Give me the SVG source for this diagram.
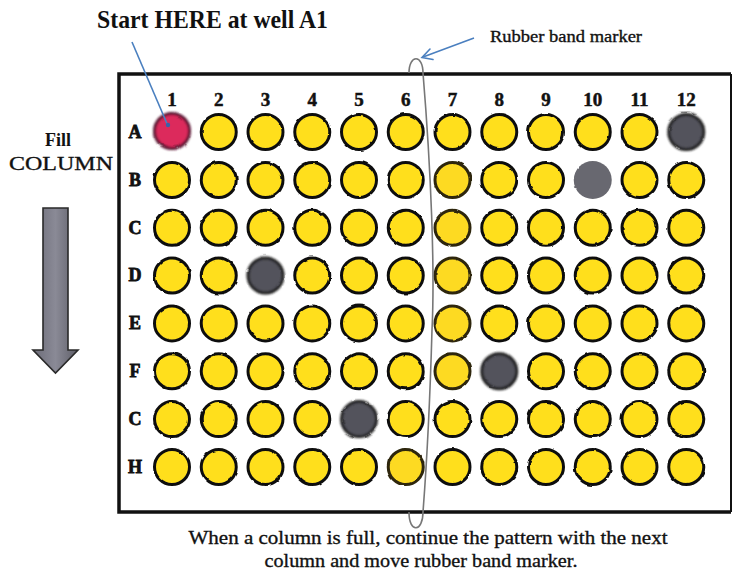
<svg xmlns="http://www.w3.org/2000/svg" width="732" height="579" viewBox="0 0 732 579">
<style>
text{font-family:"Liberation Serif","Times New Roman",serif;fill:#111}
.b{font-weight:bold}
.w{fill:#ffdf1f;stroke:#111;stroke-width:3}
.fw{fill:#fdda22;stroke:#2e2810;stroke-width:3}
.d{fill:#52525c;stroke:#1c1c1c;stroke-width:3}
.g{fill:#68686f;stroke:none}
.r{fill:#dc2a5c;stroke:#5a1430;stroke-width:3}
.num{font-size:19px;font-weight:bold;text-anchor:middle;stroke:#111;stroke-width:0.5}
.row{font-size:18px;font-weight:bold;text-anchor:middle;stroke:#111;stroke-width:0.8}
.band{fill:none;stroke:#777;stroke-width:1.6}
.blue{stroke:#4a7fbf;stroke-width:1.6;fill:none}
</style>
<defs>
<filter id="wob" x="-10%" y="-10%" width="120%" height="120%">
<feTurbulence type="fractalNoise" baseFrequency="0.12" numOctaves="1" seed="3"/>
<feDisplacementMap in="SourceGraphic" scale="2.5" xChannelSelector="R" yChannelSelector="G"/>
</filter>
<filter id="soft"><feGaussianBlur stdDeviation="0.9"/></filter>
<linearGradient id="ag" x1="0" y1="0" x2="1" y2="0">
<stop offset="0" stop-color="#6c6c78"/><stop offset="0.5" stop-color="#8a8a96"/><stop offset="1" stop-color="#5e5e68"/>
</linearGradient>
</defs>
<rect width="732" height="579" fill="#fff"/>
<!-- plate -->
<g id="plate">
<path d="M731 74 H119 V512 H731" fill="#fff" stroke="#111" stroke-width="3.5"/>
<line x1="731" y1="74" x2="731" y2="512" stroke="#111" stroke-width="2"/>
</g>
<!-- headings -->
<g id="title"><text x="97" y="28" font-size="25" class="b" textLength="231" lengthAdjust="spacingAndGlyphs">Start HERE at well A1</text></g>
<g id="band-label"><text x="490" y="42" font-size="17" textLength="152" lengthAdjust="spacingAndGlyphs" stroke="#111" stroke-width="0.35">Rubber band marker</text></g>
<g id="fill-label">
<text x="58" y="146" font-size="18" class="b" text-anchor="middle">Fill</text>
<text x="61" y="170" font-size="18" text-anchor="middle" textLength="104" lengthAdjust="spacingAndGlyphs" stroke="#111" stroke-width="0.3">COLUMN</text>
</g>
<g id="fill-arrow">
<path d="M43 208 H68 V350 H78 L55.5 373 L33 350 H43 Z" fill="url(#ag)" stroke="#2a2a2a" stroke-width="1.6" stroke-linejoin="miter"/>
</g>
<g id="caption">
<text x="428" y="544" font-size="19.5" text-anchor="middle" textLength="479" lengthAdjust="spacingAndGlyphs" stroke="#111" stroke-width="0.35">When a column is full, continue the pattern with the next</text>
<text x="421" y="567" font-size="19.5" text-anchor="middle" textLength="313" lengthAdjust="spacingAndGlyphs" stroke="#111" stroke-width="0.35">column and move rubber band marker.</text>
</g>
<!-- column numbers -->
<g id="cols">
<text class="num" x="172" y="106">1</text>
<text class="num" x="218.75" y="106">2</text>
<text class="num" x="265.5" y="106">3</text>
<text class="num" x="312.25" y="106">4</text>
<text class="num" x="359" y="106">5</text>
<text class="num" x="405.75" y="106">6</text>
<text class="num" x="452.5" y="106">7</text>
<text class="num" x="499.25" y="106">8</text>
<text class="num" x="546" y="106">9</text>
<text class="num" x="592.75" y="106">10</text>
<text class="num" x="639.5" y="106">11</text>
<text class="num" x="686.25" y="106">12</text>
</g>
<g id="rows">
<text class="row" x="135" y="138">A</text>
<text class="row" x="135" y="186">B</text>
<text class="row" x="135" y="234">C</text>
<text class="row" x="135" y="281">D</text>
<text class="row" x="135" y="329">E</text>
<text class="row" x="135" y="377">F</text>
<text class="row" x="135" y="425">C</text>
<text class="row" x="135" y="473">H</text>
</g>
<!-- wells -->
<g id="wells" filter="url(#wob)">
<g id="A1"><circle class="r" cx="172" cy="131" r="17.5" filter="url(#soft)"/></g>
<g id="A2"><circle class="w" cx="218.75" cy="132" r="17.5"/></g>
<g id="A3"><circle class="w" cx="265.5" cy="132" r="17.5"/></g>
<g id="A4"><circle class="w" cx="312.25" cy="132" r="17.5"/></g>
<g id="A5"><circle class="w" cx="359" cy="132" r="17.5"/></g>
<g id="A6"><circle class="w" cx="405.75" cy="132" r="17.5"/></g>
<g id="A7"><circle class="w" cx="452.5" cy="132" r="17.5"/></g>
<g id="A8"><circle class="w" cx="499.25" cy="132" r="17.5"/></g>
<g id="A9"><circle class="w" cx="546" cy="132" r="17.5"/></g>
<g id="A10"><circle class="w" cx="592.75" cy="132" r="17.5"/></g>
<g id="A11"><circle class="w" cx="639.5" cy="132" r="17.5"/></g>
<g id="A12"><circle class="d" cx="686.25" cy="132" r="17.5" filter="url(#soft)"/></g>

<g id="B1"><circle class="w" cx="172" cy="180" r="17.5"/></g>
<g id="B2"><circle class="w" cx="218.75" cy="180" r="17.5"/></g>
<g id="B3"><circle class="w" cx="265.5" cy="180" r="17.5"/></g>
<g id="B4"><circle class="w" cx="312.25" cy="180" r="17.5"/></g>
<g id="B5"><circle class="w" cx="359" cy="180" r="17.5"/></g>
<g id="B6"><circle class="w" cx="405.75" cy="180" r="17.5"/></g>
<g id="B7"><circle class="fw" cx="452.5" cy="180" r="17.5"/></g>
<g id="B8"><circle class="w" cx="499.25" cy="180" r="17.5"/></g>
<g id="B9"><circle class="w" cx="546" cy="180" r="17.5"/></g>
<g id="B10"><circle class="g" cx="592.75" cy="180" r="19"/></g>
<g id="B11"><circle class="w" cx="639.5" cy="180" r="17.5"/></g>
<g id="B12"><circle class="w" cx="686.25" cy="180" r="17.5"/></g>

<g id="C1"><circle class="w" cx="172" cy="227.7" r="17.5"/></g>
<g id="C2"><circle class="w" cx="218.75" cy="227.7" r="17.5"/></g>
<g id="C3"><circle class="w" cx="265.5" cy="227.7" r="17.5"/></g>
<g id="C4"><circle class="w" cx="312.25" cy="227.7" r="17.5"/></g>
<g id="C5"><circle class="w" cx="359" cy="227.7" r="17.5"/></g>
<g id="C6"><circle class="w" cx="405.75" cy="227.7" r="17.5"/></g>
<g id="C7"><circle class="fw" cx="452.5" cy="227.7" r="17.5"/></g>
<g id="C8"><circle class="w" cx="499.25" cy="227.7" r="17.5"/></g>
<g id="C9"><circle class="w" cx="546" cy="227.7" r="17.5"/></g>
<g id="C10"><circle class="w" cx="592.75" cy="227.7" r="17.5"/></g>
<g id="C11"><circle class="w" cx="639.5" cy="227.7" r="17.5"/></g>
<g id="C12"><circle class="w" cx="686.25" cy="227.7" r="17.5"/></g>

<g id="D1"><circle class="w" cx="172" cy="275.5" r="17.5"/></g>
<g id="D2"><circle class="w" cx="218.75" cy="275.5" r="17.5"/></g>
<g id="D3"><circle class="d" cx="265.5" cy="275.5" r="17.5" filter="url(#soft)"/></g>
<g id="D4"><circle class="w" cx="312.25" cy="275.5" r="17.5"/></g>
<g id="D5"><circle class="w" cx="359" cy="275.5" r="17.5"/></g>
<g id="D6"><circle class="w" cx="405.75" cy="275.5" r="17.5"/></g>
<g id="D7"><circle class="fw" cx="452.5" cy="275.5" r="17.5"/></g>
<g id="D8"><circle class="w" cx="499.25" cy="275.5" r="17.5"/></g>
<g id="D9"><circle class="w" cx="546" cy="275.5" r="17.5"/></g>
<g id="D10"><circle class="w" cx="592.75" cy="275.5" r="17.5"/></g>
<g id="D11"><circle class="w" cx="639.5" cy="275.5" r="17.5"/></g>
<g id="D12"><circle class="w" cx="686.25" cy="275.5" r="17.5"/></g>

<g id="E1"><circle class="w" cx="172" cy="323.4" r="17.5"/></g>
<g id="E2"><circle class="w" cx="218.75" cy="323.4" r="17.5"/></g>
<g id="E3"><circle class="w" cx="265.5" cy="323.4" r="17.5"/></g>
<g id="E4"><circle class="w" cx="312.25" cy="323.4" r="17.5"/></g>
<g id="E5"><circle class="w" cx="359" cy="323.4" r="17.5"/></g>
<g id="E6"><circle class="w" cx="405.75" cy="323.4" r="17.5"/></g>
<g id="E7"><circle class="fw" cx="452.5" cy="323.4" r="17.5"/></g>
<g id="E8"><circle class="w" cx="499.25" cy="323.4" r="17.5"/></g>
<g id="E9"><circle class="w" cx="546" cy="323.4" r="17.5"/></g>
<g id="E10"><circle class="w" cx="592.75" cy="323.4" r="17.5"/></g>
<g id="E11"><circle class="w" cx="639.5" cy="323.4" r="17.5"/></g>
<g id="E12"><circle class="w" cx="686.25" cy="323.4" r="17.5"/></g>

<g id="F1"><circle class="w" cx="172" cy="371.2" r="17.5"/></g>
<g id="F2"><circle class="w" cx="218.75" cy="371.2" r="17.5"/></g>
<g id="F3"><circle class="w" cx="265.5" cy="371.2" r="17.5"/></g>
<g id="F4"><circle class="w" cx="312.25" cy="371.2" r="17.5"/></g>
<g id="F5"><circle class="w" cx="359" cy="371.2" r="17.5"/></g>
<g id="F6"><circle class="w" cx="405.75" cy="371.2" r="17.5"/></g>
<g id="F7"><circle class="fw" cx="452.5" cy="371.2" r="17.5"/></g>
<g id="F8"><circle class="d" cx="499.25" cy="371.2" r="17.5" filter="url(#soft)"/></g>
<g id="F9"><circle class="w" cx="546" cy="371.2" r="17.5"/></g>
<g id="F10"><circle class="w" cx="592.75" cy="371.2" r="17.5"/></g>
<g id="F11"><circle class="w" cx="639.5" cy="371.2" r="17.5"/></g>
<g id="F12"><circle class="w" cx="686.25" cy="371.2" r="17.5"/></g>

<g id="G1"><circle class="w" cx="172" cy="419.1" r="17.5"/></g>
<g id="G2"><circle class="w" cx="218.75" cy="419.1" r="17.5"/></g>
<g id="G3"><circle class="w" cx="265.5" cy="419.1" r="17.5"/></g>
<g id="G4"><circle class="w" cx="312.25" cy="419.1" r="17.5"/></g>
<g id="G5"><circle class="d" cx="359" cy="419.1" r="17.5" filter="url(#soft)"/></g>
<g id="G6"><circle class="w" cx="405.75" cy="419.1" r="17.5"/></g>
<g id="G7"><circle class="w" cx="452.5" cy="419.1" r="17.5"/></g>
<g id="G8"><circle class="w" cx="499.25" cy="419.1" r="17.5"/></g>
<g id="G9"><circle class="w" cx="546" cy="419.1" r="17.5"/></g>
<g id="G10"><circle class="w" cx="592.75" cy="419.1" r="17.5"/></g>
<g id="G11"><circle class="w" cx="639.5" cy="419.1" r="17.5"/></g>
<g id="G12"><circle class="w" cx="686.25" cy="419.1" r="17.5"/></g>

<g id="H1"><circle class="w" cx="172" cy="467" r="17.5"/></g>
<g id="H2"><circle class="w" cx="218.75" cy="467" r="17.5"/></g>
<g id="H3"><circle class="w" cx="265.5" cy="467" r="17.5"/></g>
<g id="H4"><circle class="w" cx="312.25" cy="467" r="17.5"/></g>
<g id="H5"><circle class="w" cx="359" cy="467" r="17.5"/></g>
<g id="H6"><circle class="fw" cx="405.75" cy="467" r="17.5"/></g>
<g id="H7"><circle class="w" cx="452.5" cy="467" r="17.5"/></g>
<g id="H8"><circle class="w" cx="499.25" cy="467" r="17.5"/></g>
<g id="H9"><circle class="w" cx="546" cy="467" r="17.5"/></g>
<g id="H10"><circle class="w" cx="592.75" cy="467" r="17.5"/></g>
<g id="H11"><circle class="w" cx="639.5" cy="467" r="17.5"/></g>
<g id="H12"><circle class="w" cx="686.25" cy="467" r="17.5"/></g>
</g>
<!-- connectors -->
<g id="connectors">
<path id="rubber-band" class="band" d="M409 73 C409 54 423 54 423 73 C431 170 435 270 432 330 C430 400 427 460 423 512 C423 532 409 534 409 512"/>
<line class="blue" x1="132" y1="42" x2="168" y2="126"/>
<circle cx="168" cy="125" r="2.2" fill="#3a62a8"/>
<line class="blue" x1="474" y1="38" x2="423" y2="57"/>
<path class="blue" d="M430 49 L422 57.5 L433 59.5" stroke-linecap="round"/>
</g>
</svg>
